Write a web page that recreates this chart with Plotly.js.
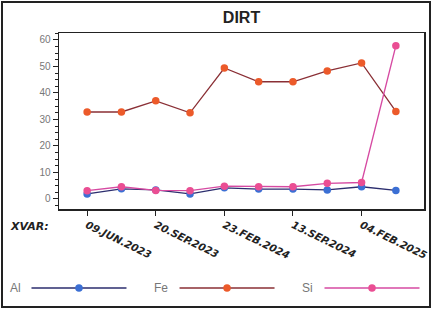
<!DOCTYPE html>
<html><head><meta charset="utf-8">
<script src="https://cdn.plot.ly/plotly-3.0.1.min.js"></script>
<style>
body{margin:0;padding:0;background:#fff;}
#wrap{position:relative;width:432px;height:309px;}
#frame{position:absolute;left:1px;top:1px;width:430px;height:307px;box-sizing:border-box;border:2px solid #222;pointer-events:none;}
</style></head>
<body><div id="wrap"><div id="chart" style="width:432px;height:309px;"></div><div id="frame"></div></div>
<script>
const xIdx = [0,1,2,3,4,5,6,7,8,9];
const alVals = [1.9, 3.8, 3.4, 1.9, 4.2, 3.7, 3.7, 3.4, 4.6, 3.2];
const feVals = [32.8, 32.8, 37.0, 32.5, 49.4, 44.2, 44.2, 48.3, 51.3, 33.0];
const siVals = [3.1, 4.6, 3.2, 3.1, 4.8, 4.6, 4.6, 5.9, 6.2, 57.8];
const tickVals = [0,2,4,6,8];
const tickText = ["09.JUN.2023","20.SEP.2023","23.FEB.2024","13.SEP.2024","04.FEB.2025"];
const seriesNames = ["Al","Fe","Si"];

const traces = [
  {x:xIdx, y:alVals, name:"", legend:"legend", mode:"lines+markers", line:{color:"#2b2d6e",width:1.3}, marker:{color:"#3b6fd4",size:7.5}},
  {x:xIdx, y:feVals, name:"", legend:"legend2", mode:"lines+markers", line:{color:"#8a2f35",width:1.3}, marker:{color:"#ec5a2a",size:7.5}},
  {x:xIdx, y:siVals, name:"", legend:"legend3", mode:"lines+markers", line:{color:"#d64aa2",width:1.3}, marker:{color:"#ea4e93",size:7.5}}
];
function leg(x){
  return {orientation:"h", xref:"container", yref:"container", x:x, xanchor:"left", y:0.068, yanchor:"middle",
    itemwidth:95, font:{size:11,color:"#666"}, bgcolor:"rgba(0,0,0,0)"};
}
const labelFont = {size:12,color:"#777",family:"Liberation Sans, Arial, sans-serif"};
const layout = {
  width:432, height:309,
  margin:{l:59,r:8,t:33,b:100},
  paper_bgcolor:"#fff", plot_bgcolor:"#fff",
  font:{family:"Liberation Sans, Arial, sans-serif", color:"#222"},
  title:{text:"<b>DIRT</b>", xref:"paper", x:0.5, xanchor:"center", yref:"container", y:0.945, yanchor:"middle", font:{size:16,color:"#222"}},
  showlegend:true,
  legend:leg(0.0613), legend2:leg(0.404), legend3:leg(0.7396),
  xaxis:{range:[-0.82,9.82], tickmode:"array", tickvals:tickVals, ticktext:tickText, tickangle:26, automargin:false,
    ticklabeloverflow:"allow",
    ticks:"outside", ticklen:5, tickcolor:"#222", showgrid:false, zeroline:false,
    showline:true, linecolor:"#222", linewidth:1.5, mirror:true,
    tickfont:{size:10.3, family:"DejaVu Sans, sans-serif", color:"#222", weight:"bold", style:"italic"}},
  yaxis:{range:[-3.8,62.6], tickvals:[0,10,20,30,40,50,60], ticks:"outside", ticklen:5, tickcolor:"#222", automargin:false,
    showgrid:false, zeroline:false, showline:true, linecolor:"#222", linewidth:1.5, mirror:true,
    tickfont:{size:10,color:"#777"},
    minor:{dtick:2.5, ticks:"outside", ticklen:3, tickcolor:"#222", showgrid:false}},
  annotations:[
    {text:"<b><i>XVAR:</i></b>", xref:"paper", yref:"paper", x:-0.14, y:-0.097, xanchor:"left", yanchor:"middle", showarrow:false, font:{size:11,color:"#222",family:"DejaVu Sans, sans-serif"}},
    {text:seriesNames[0], xref:"paper", yref:"paper", x:-0.14, y:-0.449, xanchor:"left", yanchor:"middle", showarrow:false, font:labelFont},
    {text:seriesNames[1], xref:"paper", yref:"paper", x:0.255, y:-0.449, xanchor:"left", yanchor:"middle", showarrow:false, font:labelFont},
    {text:seriesNames[2], xref:"paper", yref:"paper", x:0.660, y:-0.449, xanchor:"left", yanchor:"middle", showarrow:false, font:labelFont}
  ]
};
Plotly.newPlot("chart", traces, layout, {displayModeBar:false, staticPlot:true});
</script></body></html>
